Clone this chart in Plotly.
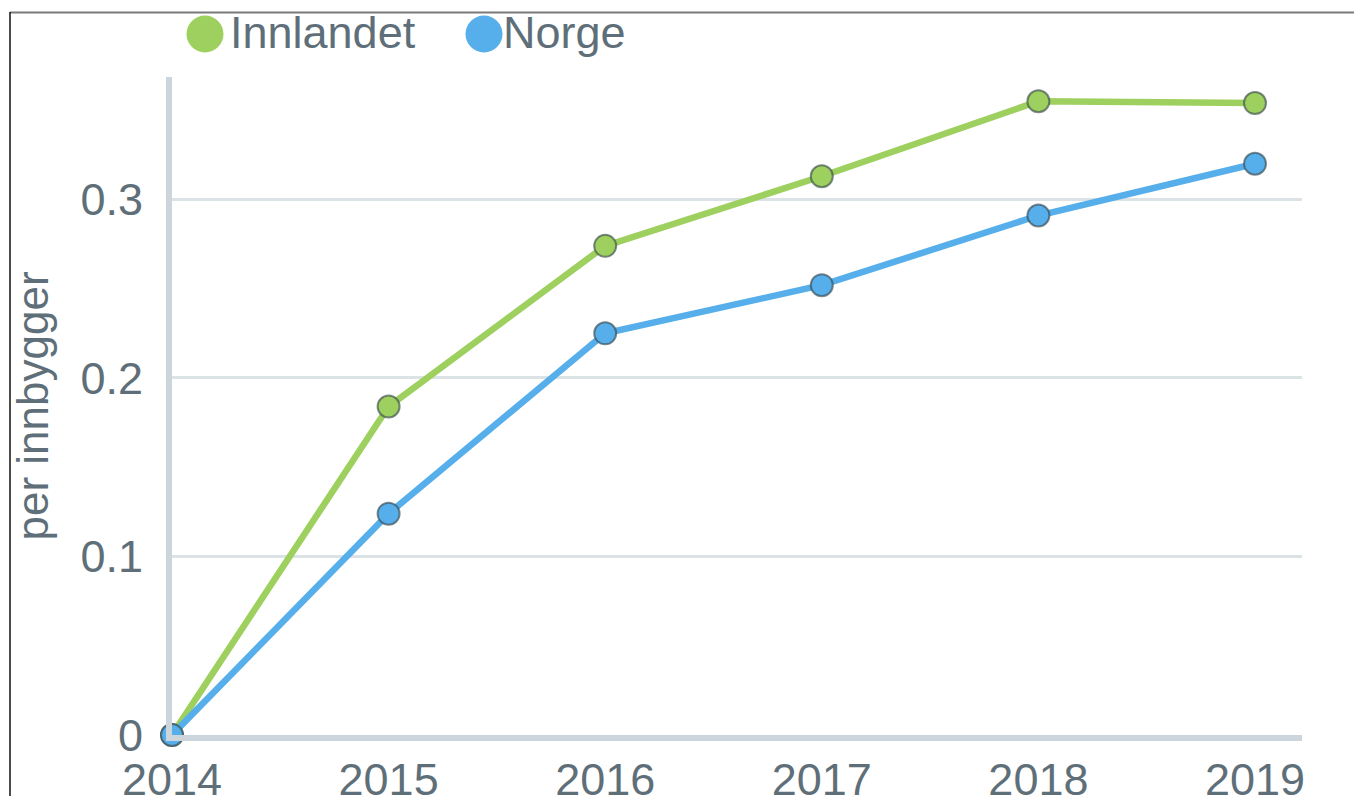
import plotly.graph_objects as go

years = [2014, 2015, 2016, 2017, 2018, 2019]
innlandet = [0.0, 0.184, 0.274, 0.313, 0.355, 0.354]
norge = [0.0, 0.124, 0.225, 0.252, 0.291, 0.320]
series_names = ["Innlandet", "Norge"]
series_colors = ["#9dd05e", "#56aeea"]
y_ticks = [0, 0.1, 0.2, 0.3]
y_tick_labels = ["0", "0.1", "0.2", "0.3"]
y_title = "per innbygger"

W, H = 1362, 796
OFF = 8  # page body margin
# plot area in screen pixels (reference), converted to figure pixels
L, R, T, B = 172 - OFF, 1302 - OFF, 77 - OFF, 735 - OFF

def px(x):
    x = x - OFF
    return (x - L) / (R - L)

def py(y):
    y = y - OFF
    return (B - y) / (B - T)

FONT = "Liberation Sans, Arial, sans-serif"
TXT = "#5f6f79"

fig = go.Figure()
for name, vals, col in zip(series_names, [innlandet, norge], series_colors):
    fig.add_trace(go.Scatter(
        x=years, y=vals, name=name, mode="lines+markers",
        line=dict(color=col, width=6.5),
        marker=dict(size=22, color=col, line=dict(color="rgba(60,75,80,0.65)", width=2)),
        cliponaxis=False, showlegend=False,
    ))

shapes = [
    dict(type="line", xref="paper", yref="paper", x0=px(10), x1=px(W + 20), y0=py(12.5), y1=py(12.5),
         line=dict(color="#7a7a7a", width=2)),
    dict(type="line", xref="paper", yref="paper", x0=px(10), x1=px(10), y0=py(12), y1=py(H + 20),
         line=dict(color="#111111", width=1.5)),
]
annotations = []
legend_items = [(205, 230), (484, 503)]
for (cx, tx), name, col in zip(legend_items, series_names, series_colors):
    r = 18.5
    shapes.append(dict(type="circle", xref="paper", yref="paper",
                       x0=px(cx - r), x1=px(cx + r), y0=py(34 + r), y1=py(34 - r),
                       fillcolor=col, line=dict(width=0)))
    annotations.append(dict(text=name, xref="paper", yref="paper", x=px(tx - 2), y=py(32.5),
                            xanchor="left", yanchor="middle", showarrow=False,
                            font=dict(family=FONT, size=45, color=TXT)))

fig.update_layout(
    template="none",
    width=W, height=H,
    margin=dict(l=L, r=W - R, t=T, b=H - B, pad=0),
    paper_bgcolor="white", plot_bgcolor="white",
    showlegend=False,
    shapes=shapes, annotations=annotations,
    font=dict(family=FONT, size=45, color=TXT),
)
fig.update_xaxes(
    automargin=False,
    range=[2014, 2019.217], tickvals=years, ticktext=[str(y) for y in years],
    showgrid=False, zeroline=False, showline=True, linecolor="#cbd5db", linewidth=6,
    ticks="", ticklabelstandoff=0, tickfont=dict(family=FONT, size=45, color=TXT),
)
fig.update_yaxes(
    automargin=False,
    range=[0, 0.3686], tickvals=y_ticks, ticktext=y_tick_labels,
    showgrid=True, gridcolor="#dce3e7", gridwidth=2.5, zeroline=False,
    showline=True, linecolor="#cbd5db", linewidth=6,
    ticks="", ticklabelstandoff=14, tickfont=dict(family=FONT, size=45, color=TXT),
    title=dict(text=y_title, standoff=22, font=dict(family=FONT, size=44, color=TXT)),
)

fig.write_html("out.html")
